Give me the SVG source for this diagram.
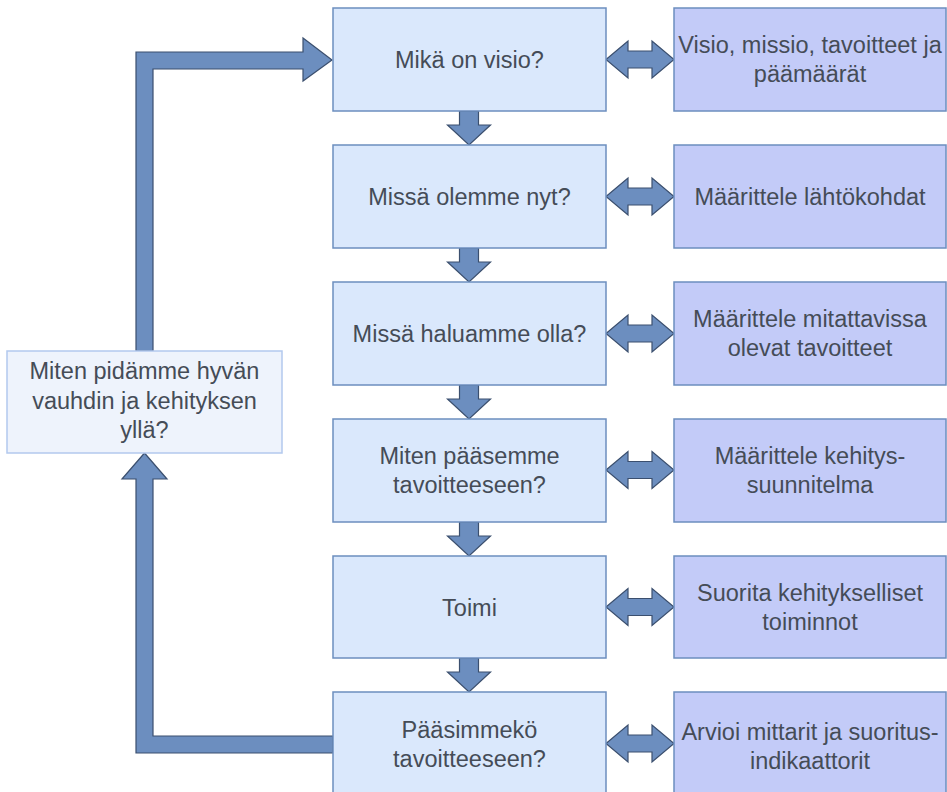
<svg xmlns="http://www.w3.org/2000/svg" width="947" height="792" viewBox="0 0 947 792">
<style>
.main{fill:#dae8fc;stroke:#6c8ebf;stroke-width:1.5}
.side{fill:#c3cbf8;stroke:#6c8ebf;stroke-width:1.5}
.left{fill:#eef3fc;stroke:#b3c9ee;stroke-width:1.5}
.arr{fill:#6c8ebf;stroke:#3b4f6e;stroke-width:1.2;stroke-linejoin:miter}
text{font-family:"Liberation Sans",Arial,sans-serif;font-size:23.5px;fill:#454c57;text-anchor:middle}
</style>
<defs>
<path id="dbl" d="M0,0 L22,-18.5 L22,-8.5 L46,-8.5 L46,-18.5 L68,0 L46,18.5 L46,8.5 L22,8.5 L22,18.5 Z"/>
<path id="down" d="M-9.5,0 L9.5,0 L9.5,14 L21.5,14 L0,34 L-21.5,14 L-9.5,14 Z"/>
</defs>
<g id="connectors">
<path class="arr" d="M136,351 L136,52 L303,52 L303,38 L332,60 L303,81 L303,69 L153,69 L153,351 Z"/>
<path class="arr" d="M333,736 L153,736 L153,479 L167,479 L144.5,453 L122,479 L136,479 L136,753 L333,753 Z"/>
<use href="#down" class="arr" x="469" y="111"/>
<use href="#down" class="arr" x="469" y="248"/>
<use href="#down" class="arr" x="469" y="385"/>
<use href="#down" class="arr" x="469" y="522"/>
<use href="#down" class="arr" x="469" y="658"/>
<use href="#dbl" class="arr" x="606" y="59.5"/>
<use href="#dbl" class="arr" x="606" y="196.5"/>
<use href="#dbl" class="arr" x="606" y="333.5"/>
<use href="#dbl" class="arr" x="606" y="470"/>
<use href="#dbl" class="arr" x="606" y="607"/>
<use href="#dbl" class="arr" x="606" y="743.5"/>
</g>
<g id="n1"><rect class="main" x="333" y="8" width="273" height="103"/><text x="469.5" y="68">Mikä on visio?</text></g>
<g id="n2"><rect class="main" x="333" y="145" width="273" height="103"/><text x="469.5" y="205">Missä olemme nyt?</text></g>
<g id="n3"><rect class="main" x="333" y="282" width="273" height="103"/><text x="469.5" y="342">Missä haluamme olla?</text></g>
<g id="n4"><rect class="main" x="333" y="419" width="273" height="103"/><text x="469.5" y="464">Miten pääsemme</text><text x="469.5" y="493">tavoitteeseen?</text></g>
<g id="n5"><rect class="main" x="333" y="556" width="273" height="102"/><text x="469.5" y="616">Toimi</text></g>
<g id="n6"><rect class="main" x="333" y="692" width="273" height="103"/><text x="469.5" y="738">Pääsimmekö</text><text x="469.5" y="767">tavoitteeseen?</text></g>
<g id="r1"><rect class="side" x="674" y="8" width="272" height="103"/><text x="810" y="53">Visio, missio, tavoitteet ja</text><text x="810" y="82">päämäärät</text></g>
<g id="r2"><rect class="side" x="674" y="145" width="272" height="103"/><text x="810" y="205">Määrittele lähtökohdat</text></g>
<g id="r3"><rect class="side" x="674" y="282" width="272" height="103"/><text x="810" y="327">Määrittele mitattavissa</text><text x="810" y="356">olevat tavoitteet</text></g>
<g id="r4"><rect class="side" x="674" y="419" width="272" height="103"/><text x="810" y="464">Määrittele kehitys-</text><text x="810" y="493">suunnitelma</text></g>
<g id="r5"><rect class="side" x="674" y="556" width="272" height="102"/><text x="810" y="601">Suorita kehitykselliset</text><text x="810" y="630">toiminnot</text></g>
<g id="r6"><rect class="side" x="674" y="692" width="272" height="103"/><text x="810" y="740">Arvioi mittarit ja suoritus-</text><text x="810" y="769">indikaattorit</text></g>
<g id="left"><rect class="left" x="7" y="351" width="275" height="102"/><text x="144.5" y="379">Miten pidämme hyvän</text><text x="144.5" y="409">vauhdin ja kehityksen</text><text x="144.5" y="438">yllä?</text></g>
</svg>
